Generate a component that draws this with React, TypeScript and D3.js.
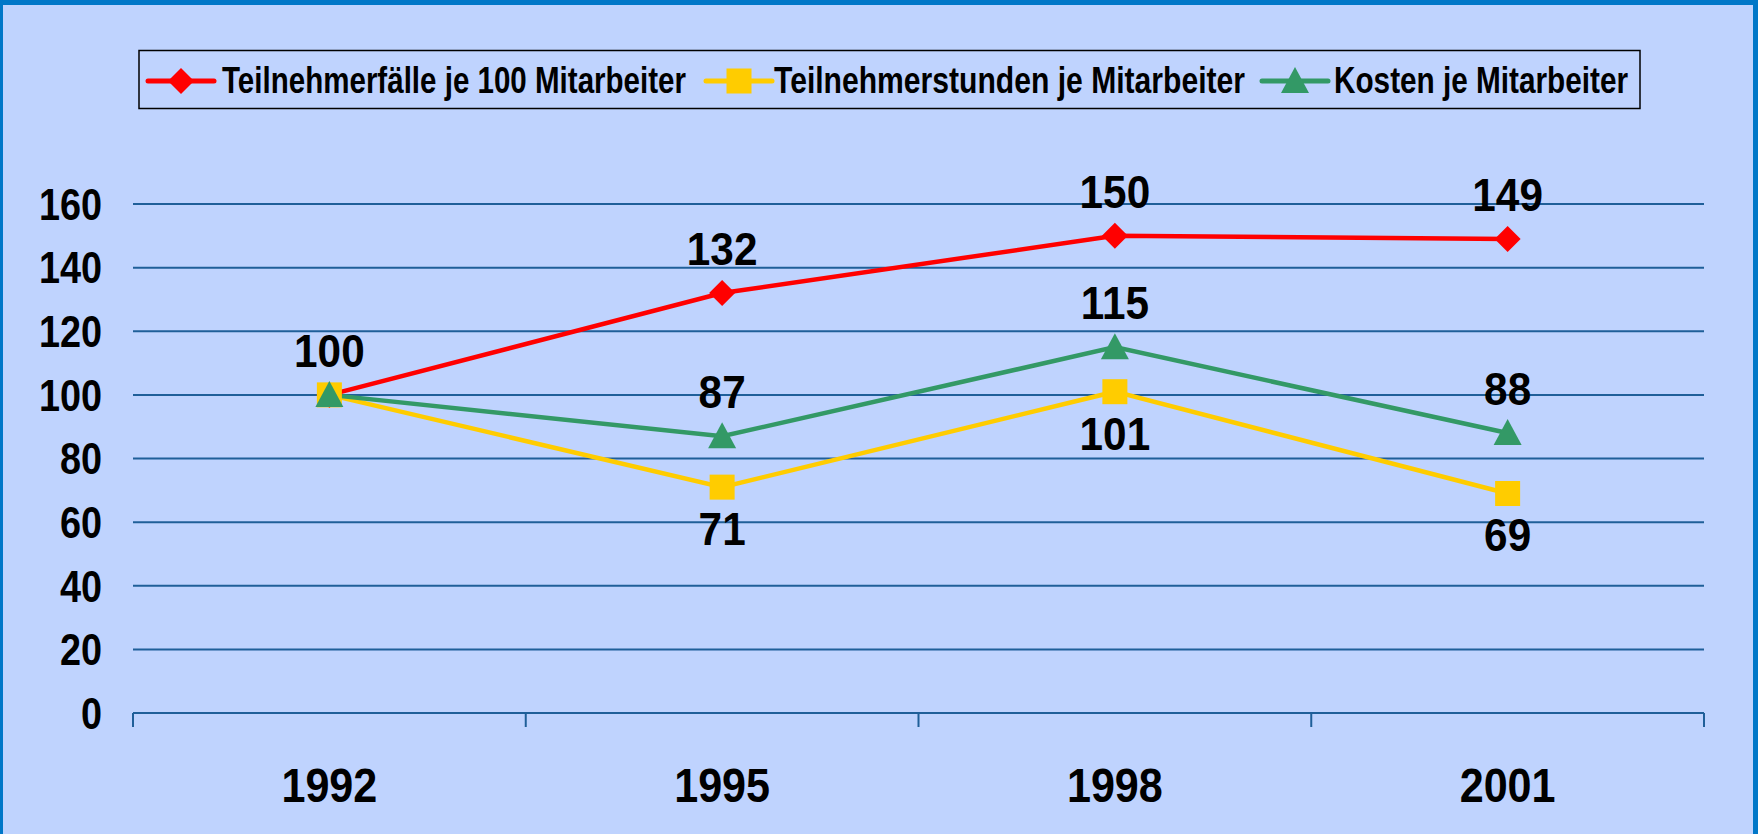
import React from "react";
import * as d3 from "d3";

const years = ["1992", "1995", "1998", "2001"];
const teilnehmerfaelle = [100, 132, 150, 149];
const teilnehmerstunden = [100, 71, 101, 69];
const kosten = [100, 87, 115, 88];
const yTicks = [0, 20, 40, 60, 80, 100, 120, 140, 160];

const W = 1758;
const H = 834;
const FONT = "'Liberation Sans Narrow', 'Arial Narrow', 'Liberation Sans', sans-serif";

type Series = {
  name: string;
  values: number[];
  color: string;
  marker: "diamond" | "square" | "triangle";
  labelPos: ("above" | "below" | "none")[];
};

const series: Series[] = [
  { name: "Teilnehmerfälle je 100 Mitarbeiter", values: teilnehmerfaelle, color: "#FF0000", marker: "diamond", labelPos: ["above", "above", "above", "above"] },
  { name: "Teilnehmerstunden je Mitarbeiter", values: teilnehmerstunden, color: "#FFCC00", marker: "square", labelPos: ["none", "below", "below", "below"] },
  { name: "Kosten je Mitarbeiter", values: kosten, color: "#339966", marker: "triangle", labelPos: ["none", "above", "above", "above"] },
];

const Marker = ({ type, x, y, color }: { type: string; x: number; y: number; color: string }) => {
  if (type === "diamond") {
    const s = 13;
    return <path d={`M${x},${y - s}L${x + s},${y}L${x},${y + s}L${x - s},${y}Z`} fill={color} />;
  }
  if (type === "square") {
    const s = 12.5;
    return <rect x={x - s} y={y - s} width={2 * s} height={2 * s} fill={color} />;
  }
  const s = 14;
  return <path d={`M${x},${y - s}L${x + s},${y + 12}L${x - s},${y + 12}Z`} fill={color} />;
};

// narrow bold text: squeeze Liberation Sans horizontally
const Txt = ({ x, y, size, sx, anchor, children, dy }: any) => (
  <text
    transform={`translate(${x},${y}) scale(${sx},1)`}
    dy={dy}
    textAnchor={anchor}
    fontFamily={FONT}
    fontWeight="bold"
    fontSize={size}
  >
    {children}
  </text>
);

export default function App() {
  const x = d3.scaleBand().domain(years).range([133, 1704]);
  const y = d3.scaleLinear().domain([0, 160]).range([713, 204]);
  const cx = (yr: string) => (x(yr) as number) + x.bandwidth() / 2;

  const line = d3
    .line<number>()
    .x((_, i) => cx(years[i]))
    .y((d) => y(d));

  const legendItems = [
    { lx: 148, tx: 222, tw: 464 },
    { lx: 706, tx: 774, tw: 471 },
    { lx: 1262, tx: 1334, tw: 294 },
  ];

  return (
    <svg width={W} height={H} style={{ position: "absolute", left: 0, top: 0, display: "block" }}>
      <rect x={0} y={0} width={W} height={H} fill="#0077C8" />
      <rect x={3} y={5} width={W - 8} height={H - 5} fill="#BFD3FE" />

      {/* legend */}
      <rect x={139} y={50.5} width={1501} height={58} fill="none" stroke="#000" strokeWidth={1.5} />
      {series.map((s, i) => {
        const it = legendItems[i];
        return (
          <g key={s.name}>
            <line x1={it.lx} x2={it.lx + 66} y1={81} y2={81} stroke={s.color} strokeWidth={5} strokeLinecap="round" />
            <Marker type={s.marker} x={it.lx + 33} y={81} color={s.color} />
            <text x={it.tx} y={93} fontFamily={FONT} fontWeight="bold" fontSize={37} textLength={it.tw} lengthAdjust="spacingAndGlyphs">
              {s.name}
            </text>
          </g>
        );
      })}

      {/* gridlines */}
      {yTicks.map((t) => (
        <g key={t}>
          <line x1={133} x2={1704} y1={y(t)} y2={y(t)} stroke="#1F5F99" strokeWidth={2} />
          <Txt x={102} y={y(t)} dy="0.36em" anchor="end" size={44} sx={0.86}>
            {t}
          </Txt>
        </g>
      ))}

      {/* x axis ticks */}
      {[...years.map((yr) => x(yr) as number), 1704].map((px, i) => (
        <line key={i} x1={px} x2={px} y1={y(0)} y2={y(0) + 14} stroke="#1F5F99" strokeWidth={2} />
      ))}
      {years.map((yr) => (
        <Txt key={yr} x={cx(yr)} y={802} anchor="middle" size={49} sx={0.88}>
          {yr}
        </Txt>
      ))}

      {/* series */}
      {[series[1], series[2], series[0]].map((s) => (
        <path key={s.name} d={line(s.values) || ""} fill="none" stroke={s.color} strokeWidth={4.5} />
      ))}
      {[series[0], series[1], series[2]].map((s) =>
        s.values.map((v, i) => <Marker key={s.name + i} type={s.marker} x={cx(years[i])} y={y(v)} color={s.color} />)
      )}

      {/* data labels */}
      {series.map((s) =>
        s.values.map((v, i) => {
          const pos = s.labelPos[i];
          if (pos === "none") return null;
          const ty = pos === "above" ? y(v) - 28 : y(v) + 58;
          return (
            <Txt key={s.name + "l" + i} x={cx(years[i])} y={ty} anchor="middle" size={47} sx={0.9}>
              {v}
            </Txt>
          );
        })
      )}
    </svg>
  );
}
